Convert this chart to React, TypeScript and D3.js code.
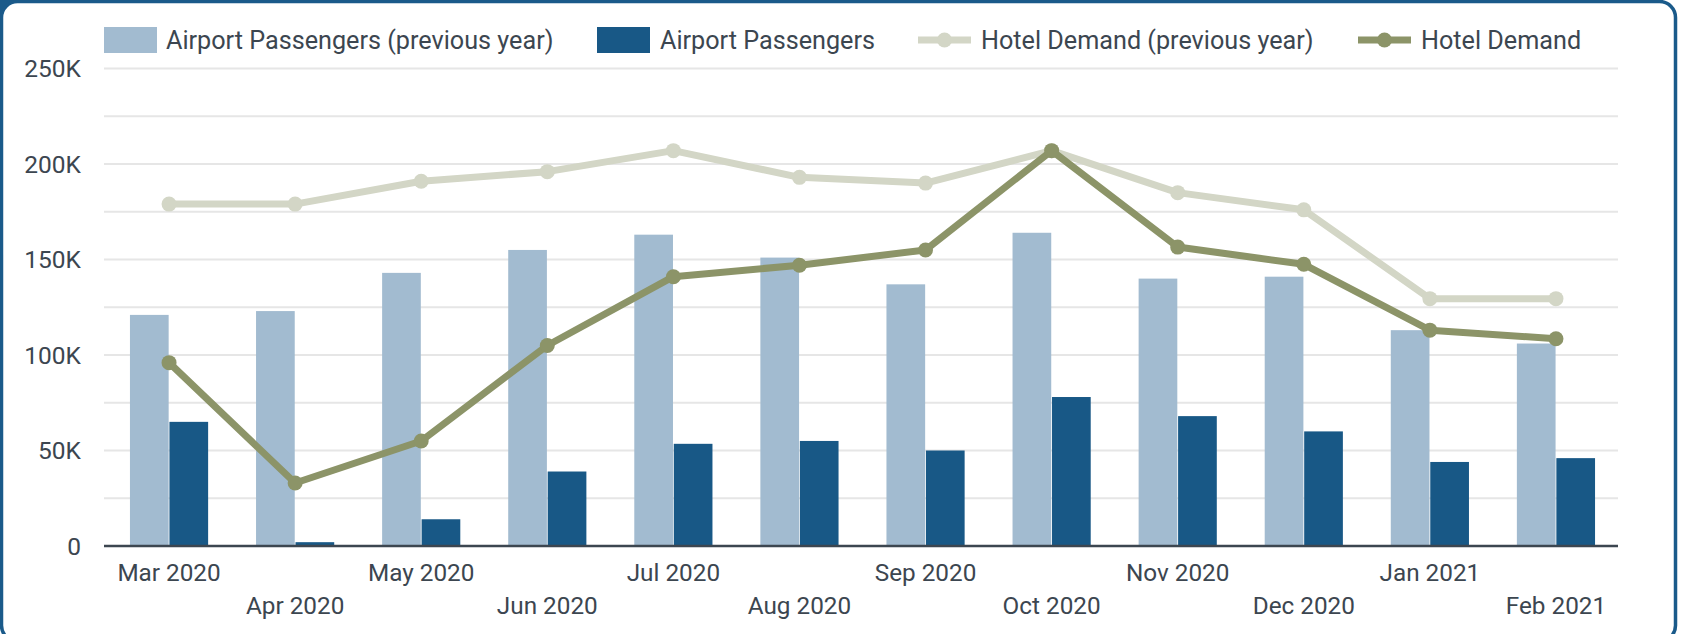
import React from "react";
import * as d3 from "d3";

const months = ["Mar 2020","Apr 2020","May 2020","Jun 2020","Jul 2020","Aug 2020","Sep 2020","Oct 2020","Nov 2020","Dec 2020","Jan 2021","Feb 2021"];
const airportPrev = [121000,123000,143000,155000,163000,151000,137000,164000,140000,141000,113000,106000];
const airport = [65000,2000,14000,39000,53500,55000,50000,78000,68000,60000,44000,46000];
const hotelPrev = [179000,179000,191000,196000,207000,193000,190000,207000,185000,176000,129500,129500];
const hotel = [96000,33000,55000,105000,141000,147000,155000,207000,156500,147500,113000,108500];
const yTicks = [0,25000,50000,75000,100000,125000,150000,175000,200000,225000,250000];
const yLabelTicks = [0,50000,100000,150000,200000,250000];

const W = 1685, H = 634;
const C = {
  lightBar: "#a2bbd0",
  darkBar: "#185886",
  lightLine: "#d3d6c6",
  darkLine: "#8c9468",
  text: "#3c4650",
  grid: "#e6e6e6",
  border: "#1a5a8a",
};

export default function App() {
  const x = d3.scaleBand<string>().domain(months).range([106, 1619]).paddingInner(0.38).paddingOuter(0.19);
  const y = d3.scaleLinear().domain([0, 250000]).range([546, 68.5]);
  const sub = d3.scaleBand<string>().domain(["prev", "cur"]).range([0, x.bandwidth()]).paddingInner(0.02);
  const cx = (m: string) => (x(m) as number) + x.bandwidth() / 2;
  const line = d3.line<number>().x((_, i) => cx(months[i])).y((d) => y(d));
  const font = "Roboto, sans-serif";

  const legend = [
    { type: "rect", color: C.lightBar, label: "Airport Passengers (previous year)", x0: 104, tx: 166 },
    { type: "rect", color: C.darkBar, label: "Airport Passengers", x0: 597, tx: 660 },
    { type: "line", color: C.lightLine, label: "Hotel Demand (previous year)", x0: 918, tx: 981 },
    { type: "line", color: C.darkLine, label: "Hotel Demand", x0: 1358, tx: 1421 },
  ];

  return (
    <div style={{ position: "absolute", left: 0, top: 0 }}>
      <svg width={W} height={H} style={{ display: "block" }} fontFamily={font}>
        <rect x={0} y={0} width={W} height={H} fill="#fff" />
        <rect x={0} y={0} width={20} height={20} fill={C.border} />
        <rect x={1.5} y={1.5} width={1674} height={640} rx={16} ry={16} fill="#fff" stroke={C.border} strokeWidth={3.5} />
        {/* grid */}
        {yTicks.map((t) => (
          <line key={t} x1={104} x2={1618} y1={y(t)} y2={y(t)} stroke={C.grid} strokeWidth={2} />
        ))}
        {yLabelTicks.map((t) => (
          <text key={t} x={81} y={y(t)} dy="0.35em" textAnchor="end" fontSize={24.5} fill={C.text}>
            {t === 0 ? "0" : `${t / 1000}K`}
          </text>
        ))}
        {/* bars */}
        {months.map((m, i) => (
          <g key={m} transform={`translate(${x(m)},0)`}>
            <rect x={sub("prev")} y={y(airportPrev[i])} width={sub.bandwidth()} height={y(0) - y(airportPrev[i])} fill={C.lightBar} />
            <rect x={sub("cur")} y={y(airport[i])} width={sub.bandwidth()} height={y(0) - y(airport[i])} fill={C.darkBar} />
          </g>
        ))}
        <line x1={104} x2={1618} y1={y(0)} y2={y(0)} stroke={C.text} strokeWidth={2.5} />
        {/* x labels */}
        {months.map((m, i) => (
          <text key={m} x={cx(m)} y={i % 2 === 0 ? 572 : 605} dy="0.35em" textAnchor="middle" fontSize={24.3} fill={C.text}>
            {m}
          </text>
        ))}
        {/* lines */}
        <path d={line(hotelPrev) as string} fill="none" stroke={C.lightLine} strokeWidth={7} strokeLinejoin="round" />
        {hotelPrev.map((v, i) => (
          <circle key={i} cx={cx(months[i])} cy={y(v)} r={7.5} fill={C.lightLine} />
        ))}
        <path d={line(hotel) as string} fill="none" stroke={C.darkLine} strokeWidth={7} strokeLinejoin="round" />
        {hotel.map((v, i) => (
          <circle key={i} cx={cx(months[i])} cy={y(v)} r={7.5} fill={C.darkLine} />
        ))}
        {/* legend */}
        {legend.map((l) => (
          <g key={l.label}>
            {l.type === "rect" ? (
              <rect x={l.x0} y={27} width={53} height={26} fill={l.color} />
            ) : (
              <g>
                <line x1={l.x0} x2={l.x0 + 53} y1={40} y2={40} stroke={l.color} strokeWidth={7} />
                <circle cx={l.x0 + 26.5} cy={40} r={7.5} fill={l.color} />
              </g>
            )}
            <text x={l.tx} y={40} dy="0.35em" fontSize={25.2} fill={C.text}>{l.label}</text>
          </g>
        ))}
      </svg>
    </div>
  );
}
